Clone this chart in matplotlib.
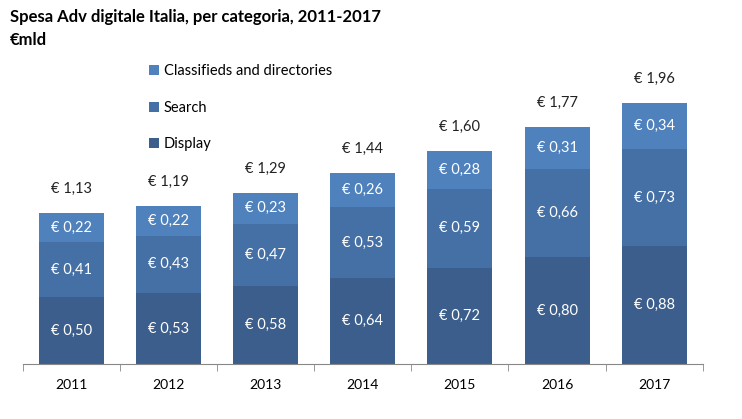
import matplotlib.pyplot as plt
import numpy as np

# data
years = ["2011", "2012", "2013", "2014", "2015", "2016", "2017"]
display = [0.50, 0.53, 0.58, 0.64, 0.72, 0.80, 0.88]
search = [0.41, 0.43, 0.47, 0.53, 0.59, 0.66, 0.73]
classified = [0.22, 0.22, 0.23, 0.26, 0.28, 0.31, 0.34]
totals = [1.13, 1.19, 1.29, 1.44, 1.60, 1.77, 1.96]

plt.rcParams['font.family'] = ['Lato', 'DejaVu Sans']

fig = plt.figure(figsize=(7.42, 4.19), dpi=100)
ax = fig.add_axes([0.031, 0.131, 0.916, 0.735])

x = np.arange(len(years))
w = 0.67
col_disp = "#3b5e8c"
col_search = "#4570a6"
col_class = "#4f81bd"


def eur(v):
    return "€ " + f"{v:.2f}".replace(".", ",")


b1 = ax.bar(x, display, w, color=col_disp, label="Display")
bottom2 = np.array(display)
b2 = ax.bar(x, search, w, bottom=bottom2, color=col_search, label="Search")
bottom3 = bottom2 + np.array(search)
b3 = ax.bar(x, classified, w, bottom=bottom3, color=col_class,
            label="Classifieds and directories")

for i in range(len(years)):
    ax.text(x[i], display[i] / 2, eur(display[i]), ha="center", va="center",
            color="white", fontsize=10.5)
    ax.text(x[i], bottom2[i] + search[i] / 2, eur(search[i]), ha="center",
            va="center", color="white", fontsize=10.5)
    ax.text(x[i], bottom3[i] + classified[i] / 2, eur(classified[i]),
            ha="center", va="center", color="white", fontsize=10.5)
    ax.text(x[i], bottom3[i] + classified[i] + 0.18, eur(totals[i]),
            ha="center", va="center", color="#222222", fontsize=10.5)

ax.set_xlim(-0.5, len(years) - 0.5)
ax.set_ylim(0, 2.3)
ax.set_xticks(x)
ax.set_xticklabels(years, fontsize=10)
ax.set_xticks(np.arange(-0.5, len(years)), minor=True)
ax.tick_params(axis="x", which="major", length=0, pad=11)
ax.tick_params(axis="x", which="minor", length=5, color="#888888")
ax.set_yticks([])
for s in ["top", "right", "left"]:
    ax.spines[s].set_visible(False)
ax.spines["bottom"].set_color("#888888")

handles = [b3, b2, b1]
labels = ["Classifieds and directories", "Search", "Display"]
ax.legend(handles, labels, loc="upper left", bbox_to_anchor=(136 / 742, 1 - 51 / 419),
          bbox_transform=fig.transFigure, frameon=False, fontsize=10.5,
          handlelength=0.7, handleheight=0.7, handletextpad=0.3, labelspacing=1.55)

fig.text(10 / 742, 1 - 17 / 419, "Spesa Adv digitale Italia, per categoria, 2011-2017",
         fontsize=12, fontweight="bold", va="center")
fig.text(10 / 742, 1 - 40 / 419, "€mld", fontsize=12, fontweight="bold", va="center")

fig.savefig("out.png", dpi=100)
